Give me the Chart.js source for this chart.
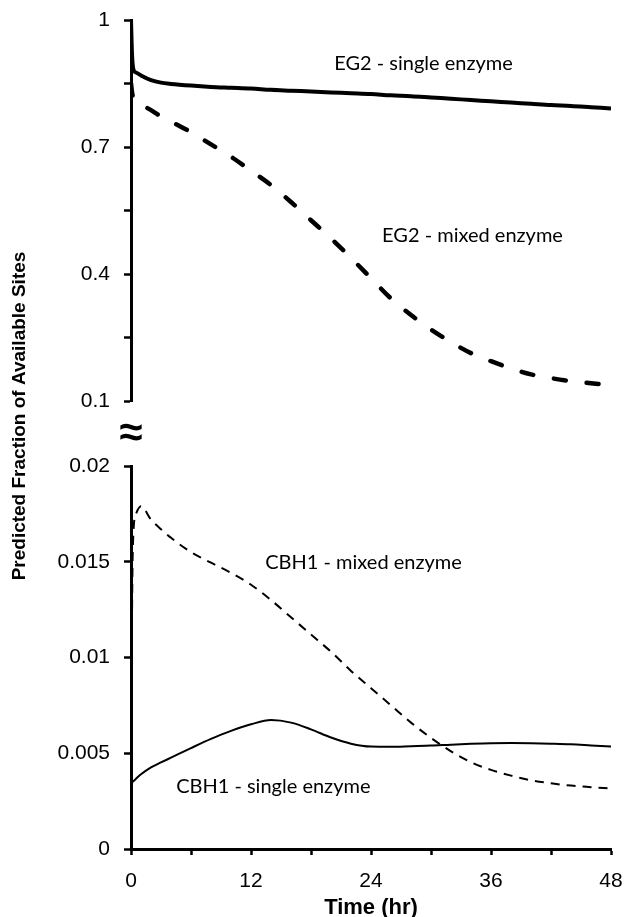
<!DOCTYPE html>
<html>
<head>
<meta charset="utf-8">
<title>Predicted fraction of available sites</title>
<script src="https://cdn.jsdelivr.net/npm/chart.js@4.4.1/dist/chart.umd.min.js"></script>
<style>
  html, body { margin: 0; padding: 0; background: #fff; }
  canvas { display: block; }
</style>
</head>
<body>
<canvas id="sites" width="629" height="917"></canvas>
<script>
// sampling times (hr)
const timeHr = [0, 0.1, 0.25, 0.5, 1, 2, 3, 4, 6, 8, 10, 12, 14, 16, 18, 20, 22, 24, 26, 28, 30, 32, 34, 36, 38, 40, 42, 44, 46, 48];

// EG2 fractions (upper panel)
const eg2Single = [1.0, 0.92, 0.882, 0.876, 0.869, 0.858, 0.852, 0.849, 0.845, 0.842, 0.840, 0.838, 0.835, 0.833, 0.831, 0.829, 0.827, 0.825, 0.822, 0.820, 0.817, 0.814, 0.811, 0.808, 0.805, 0.802, 0.799, 0.797, 0.794, 0.791];
const eg2Mixed = [0.85, 0.83, 0.812, 0.806, 0.800, 0.787, 0.772, 0.760, 0.735, 0.706, 0.677, 0.644, 0.610, 0.570, 0.527, 0.484, 0.438, 0.390, 0.342, 0.303, 0.269, 0.239, 0.213, 0.194, 0.177, 0.163, 0.154, 0.147, 0.142, 0.137];

// CBH1 fractions (lower panel)
const cbh1Mixed = [0, 0.012, 0.0166, 0.0175, 0.0179, 0.0172, 0.0167, 0.01625, 0.0155, 0.01495, 0.01442, 0.0138, 0.0130, 0.0121, 0.0112, 0.0103, 0.0093, 0.0084, 0.0075, 0.0066, 0.0058, 0.0051, 0.00453, 0.00413, 0.00383, 0.00359, 0.00343, 0.00331, 0.00323, 0.00316];
const cbh1Single = [0, 0.0034, 0.00355, 0.00367, 0.0039, 0.00426, 0.00452, 0.00477, 0.00527, 0.00575, 0.00617, 0.00651, 0.00673, 0.0066, 0.00625, 0.00582, 0.0055, 0.00535, 0.00534, 0.00537, 0.0054, 0.00545, 0.00549, 0.00552, 0.00553, 0.00552, 0.0055, 0.00547, 0.00541, 0.00535];

// tick label settings
const xTicks = { step: 6, labelEvery: 12 };
const topRange = { min: 0.1, max: 1, step: 0.15 };
const bottomRange = { min: 0, max: 0.02, step: 0.0025 };

// text placed next to each curve, in data units
const curveNotes = [
  { text: 'EG2 - single enzyme', hr: 29.25, value: 0.898, axis: 'yTop' },
  { text: 'EG2 - mixed enzyme', hr: 34.15, value: 0.49, axis: 'yTop' },
  { text: 'CBH1 - mixed enzyme', hr: 23.25, value: 0.01496, axis: 'yBottom' },
  { text: 'CBH1 - single enzyme', hr: 14.23, value: 0.00325, axis: 'yBottom' }
];

const toPoints = (values) => values.map((v, i) => ({ x: timeHr[i], y: v }));

const everyOther = (digits) => (value, index) =>
  index % 2 === 0 ? String(Number(value.toFixed(digits))) : '';

// keep label overhang out of the layout, padding below sets the plot edges
const fixedWidth = (scale) => {
  scale.width = 131;
  scale.paddingTop = 0;
  scale.paddingBottom = 0;
};

Chart.defaults.font.family = '"Liberation Sans", Arial, sans-serif';
Chart.defaults.color = '#000';

const axisLine = { display: true, color: '#000', width: 3 };
const tickMarks = {
  display: true,
  drawOnChartArea: false,
  drawTicks: true,
  tickLength: 7,
  tickWidth: 2.5,
  tickColor: '#000',
  color: '#000'
};

// axis title, break mark and curve names
const notesPlugin = {
  id: 'notes',
  afterDraw(chart) {
    const ctx = chart.ctx;
    ctx.save();
    ctx.fillStyle = '#000';

    ctx.font = '20px Lato, sans-serif';
    ctx.textAlign = 'center';
    ctx.textBaseline = 'middle';
    curveNotes.forEach((n) => {
      const x = chart.scales.x.getPixelForValue(n.hr);
      const y = chart.scales[n.axis].getPixelForValue(n.value);
      ctx.fillText(n.text, x, y);
    });

    // break between the two panels
    ctx.font = 'bold 42px "Liberation Sans", sans-serif';
    ctx.fillText('\u2248', chart.chartArea.left, 434);

    ctx.translate(20, 416);
    ctx.rotate(-Math.PI / 2);
    ctx.font = 'bold 19px "Liberation Sans", sans-serif';
    ctx.fillText('Predicted Fraction of Available Sites', 0, 0);
    ctx.restore();
  }
};

const canvas = document.getElementById('sites');

new Chart(canvas, {
  type: 'line',
  data: {
    datasets: [
      {
        label: 'EG2 - single enzyme',
        data: toPoints(eg2Single),
        yAxisID: 'yTop',
        borderColor: '#000',
        borderWidth: 4,
        pointRadius: 0,
        cubicInterpolationMode: 'monotone',
        fill: false
      },
      {
        label: 'EG2 - mixed enzyme',
        data: toPoints(eg2Mixed),
        yAxisID: 'yTop',
        borderColor: '#000',
        borderWidth: 4.5,
        borderDash: [12, 21],
        borderCapStyle: 'round',
        pointRadius: 0,
        cubicInterpolationMode: 'monotone',
        fill: false
      },
      {
        label: 'CBH1 - mixed enzyme',
        data: toPoints(cbh1Mixed),
        yAxisID: 'yBottom',
        borderColor: '#000',
        borderWidth: 2,
        borderDash: [9, 7],
        pointRadius: 0,
        cubicInterpolationMode: 'monotone',
        fill: false
      },
      {
        label: 'CBH1 - single enzyme',
        data: toPoints(cbh1Single),
        yAxisID: 'yBottom',
        borderColor: '#000',
        borderWidth: 2,
        pointRadius: 0,
        cubicInterpolationMode: 'monotone',
        fill: false
      }
    ]
  },
  options: {
    responsive: false,
    animation: false,
    layout: { padding: { left: 0, right: 18, top: 20, bottom: 0 } },
    plugins: {
      legend: { display: false },
      tooltip: { enabled: false }
    },
    scales: {
      x: {
        type: 'linear',
        min: 0,
        max: 48,
        border: axisLine,
        grid: { ...tickMarks, tickLength: 6 },
        ticks: {
          stepSize: xTicks.step,
          padding: 14,
          font: { size: 21 },
          maxRotation: 0,
          callback: (value) => (value % xTicks.labelEvery === 0 ? String(value) : '')
        },
        title: {
          display: true,
          text: 'Time (hr)',
          font: { size: 22, weight: 'bold' },
          padding: { top: 0, bottom: -4 }
        },
        afterFit: (scale) => {
          scale.height = 68;
          scale.paddingLeft = 0;
          scale.paddingRight = 0;
        }
      },
      yBottom: {
        type: 'linear',
        position: 'left',
        stack: 'panels',
        stackWeight: 383,
        min: bottomRange.min,
        max: bottomRange.max,
        border: axisLine,
        grid: tickMarks,
        ticks: {
          stepSize: bottomRange.step,
          padding: 14,
          font: { size: 21 },
          callback: everyOther(4)
        },
        afterFit: fixedWidth
      },
      yGap: {
        type: 'linear',
        position: 'left',
        stack: 'panels',
        stackWeight: 65,
        min: 0,
        max: 1,
        border: { display: false },
        grid: { display: false },
        ticks: { display: false },
        afterFit: fixedWidth
      },
      yTop: {
        type: 'linear',
        position: 'left',
        stack: 'panels',
        stackWeight: 381,
        min: topRange.min,
        max: topRange.max,
        border: axisLine,
        grid: tickMarks,
        ticks: {
          stepSize: topRange.step,
          padding: 14,
          font: { size: 21 },
          callback: everyOther(2)
        },
        afterFit: fixedWidth
      }
    }
  },
  plugins: [notesPlugin]
});
</script>
</body>
</html>
